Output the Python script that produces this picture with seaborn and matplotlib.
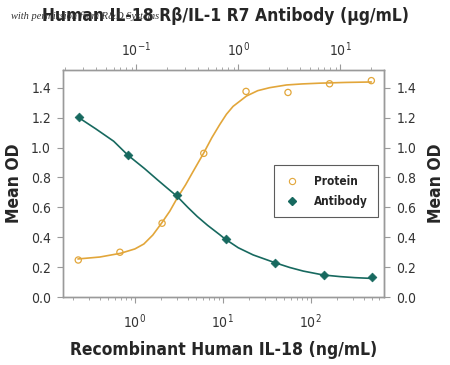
import matplotlib
matplotlib.use('Agg')
import matplotlib.pyplot as plt
import matplotlib.font_manager as fm
import seaborn as sns
import pandas as pd
from matplotlib.lines import Line2D

# --- data ---
protein_conc = [0.227, 0.676, 2.04, 6.08, 18.4, 55.2, 164, 490]          # ng/mL (bottom axis)
protein_od = [0.248, 0.300, 0.494, 0.961, 1.375, 1.368, 1.426, 1.447]
antibody_conc = [0.0272, 0.083, 0.25, 0.757, 2.27, 6.86, 20.7]           # ug/mL (top axis)
antibody_od = [1.203, 0.948, 0.684, 0.389, 0.230, 0.145, 0.136]

# fitted curves
protein_fit_conc = [0.225, 0.4, 0.688, 1.0, 1.265, 1.6, 2.01, 2.5, 3.03, 3.77, 4.5, 6.08,
                    7.5, 9.25, 11, 13.1, 18.6, 25, 34.2, 53, 80, 126, 250, 490]
protein_fit_od = [0.255, 0.268, 0.293, 0.322, 0.355, 0.415, 0.494, 0.575, 0.662, 0.750, 0.830, 0.964,
                  1.065, 1.154, 1.222, 1.275, 1.344, 1.380, 1.400, 1.418, 1.425, 1.430, 1.435, 1.438]
antibody_fit_conc = [0.0268, 0.04, 0.06, 0.083, 0.12, 0.1607, 0.2, 0.252, 0.32, 0.396, 0.5,
                     0.662, 0.741, 1.0, 1.40, 2.29, 3.2, 4.34, 6.81, 10, 14, 20.3]
antibody_fit_od = [1.203, 1.125, 1.042, 0.948, 0.860, 0.785, 0.730, 0.673, 0.600, 0.539, 0.480,
                   0.416, 0.389, 0.330, 0.282, 0.230, 0.198, 0.174, 0.148, 0.137, 0.130, 0.125]

yticks = [0.0, 0.2, 0.4, 0.6, 0.8, 1.0, 1.2, 1.4]

ORANGE = '#E2A63A'
TEAL = '#17695F'
GREY = '#9a9a9a'

sns.set_style('white')
# a narrow font if one is around, else condensed DejaVu
names = {f.name for f in fm.fontManager.ttflist}
if 'Liberation Sans Narrow' in names:
    plt.rcParams['font.family'] = ['Liberation Sans Narrow', 'DejaVu Sans']
else:
    plt.rcParams['font.family'] = ['DejaVu Sans']
    plt.rcParams['font.stretch'] = 'condensed'
plt.rcParams['mathtext.default'] = 'regular'

prot = pd.DataFrame({'conc': protein_conc, 'od': protein_od})
prot_fit = pd.DataFrame({'conc': protein_fit_conc, 'od': protein_fit_od})
ab = pd.DataFrame({'conc': antibody_conc, 'od': antibody_od})
ab_fit = pd.DataFrame({'conc': antibody_fit_conc, 'od': antibody_fit_od})

fig = plt.figure(figsize=(4.5, 3.65), dpi=100)
ax = fig.add_axes([0.141, 0.186, 0.712, 0.623])

# bottom axis: protein
sns.lineplot(data=prot_fit, x='conc', y='od', ax=ax, color=ORANGE, lw=1.2)
sns.scatterplot(data=prot, x='conc', y='od', ax=ax, marker='o', s=20,
                facecolor='none', edgecolor=ORANGE, linewidth=0.9, zorder=3)
ax.set_xscale('log')
ax.set_xlim(0.154, 680)
ax.set_ylim(0, 1.52)
ax.set_yticks(yticks)
ax.set_yticklabels([f'{v:.1f}' for v in yticks])

# top axis: antibody (shares y with ax)
ax2 = ax.twiny()
sns.lineplot(data=ab_fit, x='conc', y='od', ax=ax2, color=TEAL, lw=1.2)
sns.scatterplot(data=ab, x='conc', y='od', ax=ax2, marker='D', s=20,
                color=TEAL, edgecolor=TEAL, linewidth=0.5, zorder=3)
ax2.set_xscale('log')
ax2.set_xlim(0.0193, 26.8)
ax2.set_ylim(0, 1.52)

# right hand y axis
sec = ax.secondary_yaxis('right')
sec.set_yticks(yticks)
sec.set_yticklabels([f'{v:.1f}' for v in yticks])

for a in (ax, ax2):
    for s in a.spines.values():
        s.set_color(GREY)
        s.set_linewidth(1.0)
for s in sec.spines.values():
    s.set_color(GREY)

tick_kw = dict(direction='out', color=GREY, labelsize=10, labelcolor='#333333')
ax.tick_params(axis='both', which='major', length=4, width=0.8, pad=5, **tick_kw)
ax.tick_params(axis='x', which='minor', direction='out', length=2, width=0.6, color=GREY)
ax.tick_params(axis='x', which='major', pad=7)
ax.tick_params(left=True, bottom=True, labelleft=True)
ax2.tick_params(axis='x', which='major', length=4, width=0.8, pad=4, **tick_kw)
ax2.tick_params(axis='x', which='minor', direction='out', length=2, width=0.6, color=GREY)
ax2.tick_params(top=True)
ax2.tick_params(axis='y', left=False, right=False, labelleft=False, labelright=False)
sec.tick_params(length=4, width=0.8, pad=5, **tick_kw)

ax.set_xlabel('Recombinant Human IL-18 (ng/mL)', fontsize=12.5, fontweight='bold', labelpad=7)
ax.set_ylabel('Mean OD', fontsize=12.5, fontweight='bold', labelpad=6)
sec.set_ylabel('Mean OD', fontsize=12.5, fontweight='bold', rotation=90, labelpad=8)
ax2.set_xlabel('')
ax2.set_ylabel('')

fig.text(0.5, 0.956, 'Human IL-18 R\u03b2/IL-1 R7 Antibody (\u03bcg/mL)', ha='center', va='center',
         fontsize=12.5, fontweight='bold')
fig.text(0.025, 0.956, 'with permission from R&D Systems', ha='left', va='center',
         fontsize=7.5, style='italic', family=['Liberation Serif', 'DejaVu Serif'],
         stretch='normal', color='#333333')

handles = [
    Line2D([], [], ls='none', marker='o', markersize=4.5, markerfacecolor='none',
           markeredgecolor=ORANGE, markeredgewidth=0.8, label='Protein'),
    Line2D([], [], ls='none', marker='D', markersize=4, color=TEAL, label='Antibody'),
]
leg = ax2.legend(handles=handles, loc='upper right', bbox_to_anchor=(0.981, 0.58),
                 frameon=True, fancybox=False, edgecolor='#333333', fontsize=8.5,
                 borderpad=0.8, handlelength=1.4, handletextpad=1.2, labelspacing=0.6,
                 borderaxespad=0)
leg.get_frame().set_linewidth(0.8)
for t in leg.get_texts():
    t.set_fontweight('bold')

fig.savefig('out.png', dpi=100)
